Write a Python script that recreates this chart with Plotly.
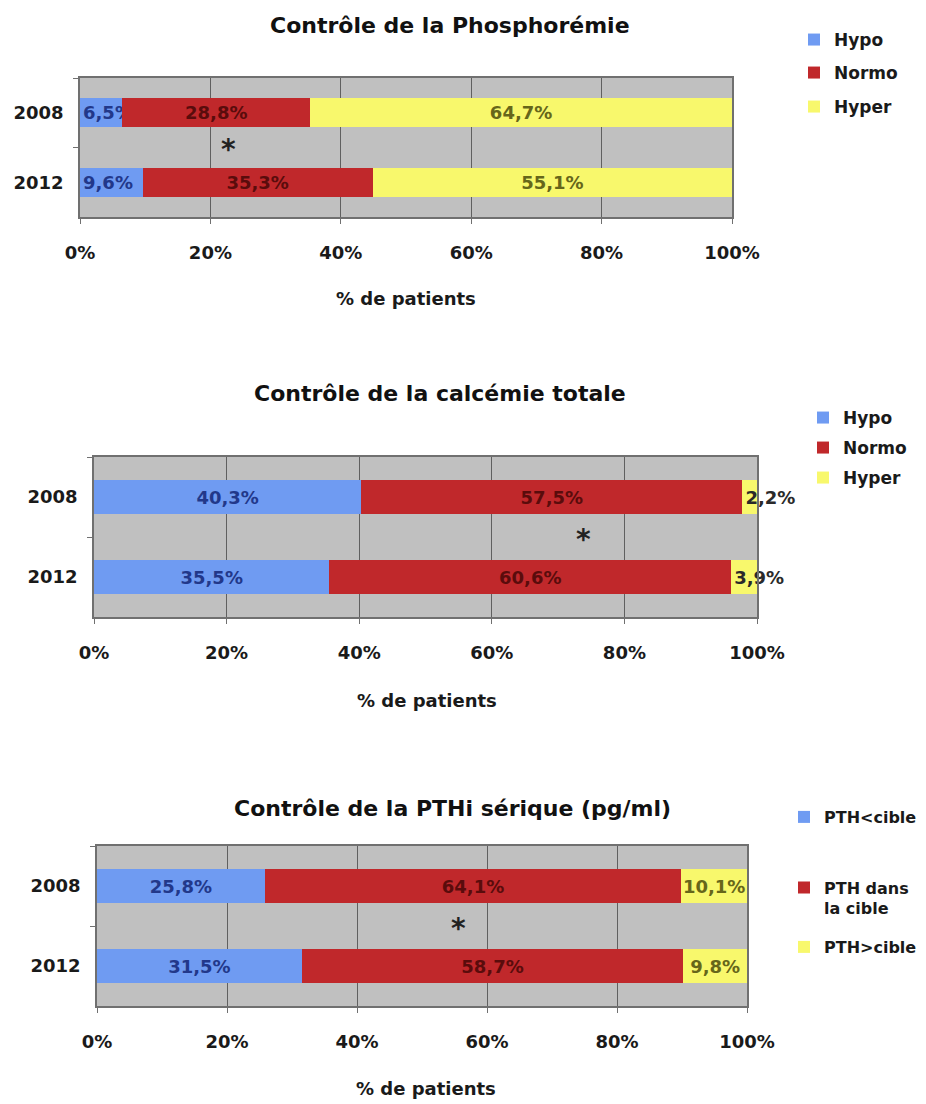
'''
Contrôle phosphocalcique 2008 vs 2012 - stacked horizontal bars
'''
import plotly.graph_objects as go

'''----------------------------- Data ----------------------------'''
years = ["2008", "2012"]

phos_hypo = [6.5, 9.6]
phos_normo = [28.8, 35.3]
phos_hyper = [64.7, 55.1]

calc_hypo = [40.3, 35.5]
calc_normo = [57.5, 60.6]
calc_hyper = [2.2, 3.9]

pth_low = [25.8, 31.5]
pth_in = [64.1, 58.7]
pth_high = [10.1, 9.8]

titles = ["Contrôle de la Phosphorémie",
          "Contrôle de la calcémie totale",
          "Contrôle de la PTHi sérique (pg/ml)"]
names_ca_p = ["Hypo", "Normo", "Hyper"]
names_pth = ["PTH&lt;cible", "PTH dans<br>la cible", "PTH&gt;cible"]
x_ticks = [0, 20, 40, 60, 80, 100]
x_ticktext = ["0%", "20%", "40%", "60%", "80%", "100%"]
star_x = [22.8, 73.8, 55.6]

'''----------------------------- Style ----------------------------'''
OFF = 8                      # page body margin around the plot div
W, H = 926 - OFF, 1104 - OFF
FONT = "DejaVu Sans"
INK = "#1a1a1a"
BLUE, RED, YELLOW = "#6f9bf2", "#c0282b", "#f8f86c"
TXT = ["#22388a", "#5a0c0c", "#66661a"]
GRID = "#606060"
FRAME = "#707070"

# page-pixel boxes of each panel: (left, right, top, bottom)
boxes = [(80, 732, 78, 217), (94, 757, 457, 617), (97, 747, 846, 1006)]
title_pos = [(450, 25), (440, 393), (452, 808)]
xtitle_pos = [(406, 298), (427, 700), (426, 1088)]
# legend: box left x, item centre y (one legend per series)
legend_x = [794, 803, 784]
legend_y = [[40, 73, 107], [418, 448, 478], [817, 898, 947]]
legend_size = [17, 17, 16]


def fmt(v):
    return f"{v:.1f}".replace(".", ",") + "%"


def px_x(p):
    return (p - OFF) / W


def px_y(p):
    return 1 - (p - OFF) / H


fig = go.Figure()

panels = [
    ([phos_hypo, phos_normo, phos_hyper], names_ca_p),
    ([calc_hypo, calc_normo, calc_hyper], names_ca_p),
    ([pth_low, pth_in, pth_high], names_pth),
]

layout = dict(
    template="none",
    width=W, height=H,
    margin=dict(l=0, r=0, t=0, b=0, pad=0),
    paper_bgcolor="white", plot_bgcolor="#c0c0c0",
    barmode="stack", bargap=0.58,
    showlegend=True,
    font=dict(family=FONT, size=17, color=INK),
)

annotations = []
k = 0
for i, (series, names) in enumerate(panels):
    n = "" if i == 0 else str(i + 1)
    for j, (vals, name, col) in enumerate(zip(series, names, [BLUE, RED, YELLOW])):
        k += 1
        leg = "legend" if k == 1 else f"legend{k}"
        small = (i == 1 and j == 2)   # tiny hyper-calcemia segments
        narrow = (i == 0 and j == 0)  # thin hypo-phosphoremia segments
        fig.add_trace(go.Bar(
            y=years, x=vals, orientation="h",
            name=name, marker=dict(color=col, line=dict(width=0)),
            text=[fmt(v) for v in vals],
            textposition="inside",
            insidetextanchor="start" if (small or narrow) else "middle",
            constraintext="none", textangle=0,
            cliponaxis=False,
            textfont=dict(family=FONT, size=18, weight="bold",
                          color="#2a2a2a" if small else TXT[j]),
            xaxis="x" + n, yaxis="y" + n,
            legend=leg,
            hoverinfo="skip",
        ))
        layout[leg] = dict(
            x=px_x(legend_x[i]), y=px_y(legend_y[i][j]),
            xanchor="left", yanchor="middle",
            valign="top", itemwidth=30,
            font=dict(family=FONT, size=legend_size[i], weight="bold", color=INK),
            bgcolor="rgba(0,0,0,0)", borderwidth=0,
        )

for i, (l, r, t, b) in enumerate(boxes):
    n = "" if i == 0 else str(i + 1)
    layout["xaxis" + n] = dict(
        domain=[px_x(l), px_x(r)], anchor="y" + n,
        range=[0, 100], tickmode="array",
        tickvals=x_ticks, ticktext=x_ticktext,
        showgrid=True, gridcolor=GRID, gridwidth=1,
        showline=True, linecolor=FRAME, linewidth=1.5, mirror=True,
        ticks="outside", ticklen=5, tickcolor=FRAME,
        ticklabelstandoff=14,
        tickfont=dict(family=FONT, size=18, weight="bold", color=INK),
        zeroline=False, fixedrange=True, automargin=False,
    )
    layout["yaxis" + n] = dict(
        type="category",
        domain=[px_y(b), px_y(t)], anchor="x" + n,
        categoryorder="array", categoryarray=years, autorange="reversed",
        showline=True, linecolor=FRAME, linewidth=1.5, mirror=True,
        ticks="outside", ticklen=5, tickcolor=FRAME, tickson="boundaries",
        showgrid=False, ticklabelstandoff=11,
        tickfont=dict(family=FONT, size=18, weight="bold", color=INK),
        fixedrange=True, automargin=False,
    )
    tx, ty = title_pos[i]
    annotations.append(dict(
        text=titles[i], xref="paper", yref="paper",
        x=px_x(tx), y=px_y(ty), showarrow=False,
        font=dict(family=FONT, size=22, weight="bold", color="#111111"),
        xanchor="center", yanchor="middle",
    ))
    ax, ay = xtitle_pos[i]
    annotations.append(dict(
        text="% de patients", xref="paper", yref="paper",
        x=px_x(ax), y=px_y(ay), showarrow=False,
        font=dict(family=FONT, size=18, weight="bold", color=INK),
        xanchor="center", yanchor="middle",
    ))
    # significance star between the two years
    annotations.append(dict(
        text="*", xref="x" + n, yref="y" + n,
        x=star_x[i], y=0.5, showarrow=False,
        font=dict(family=FONT, size=28, weight="bold", color="#222222"),
        xanchor="center", yanchor="middle", yshift=-2,
    ))

layout["annotations"] = annotations
fig.update_layout(**layout)

fig.write_html("out.html")
